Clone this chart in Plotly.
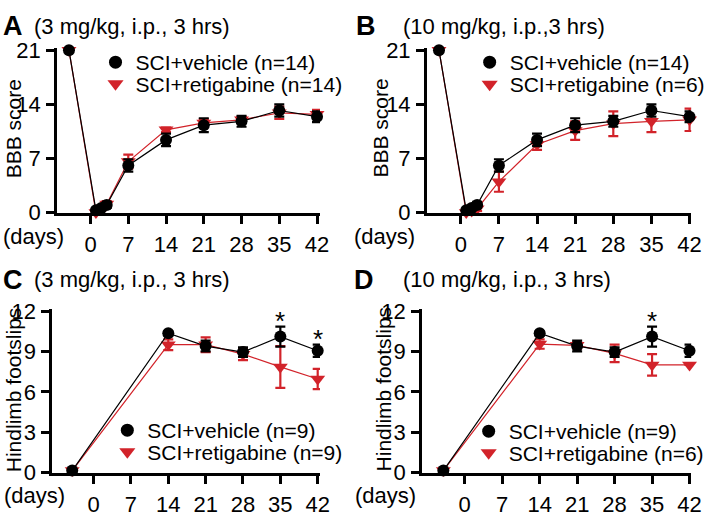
import plotly.graph_objects as go

W, H = 714, 520
FONT = "Liberation Sans, Arial, sans-serif"
BLACK = "#000000"
RED = "#d2232a"

# ---------------- data ----------------
days_bbb = [-4, 1, 2, 3, 7, 14, 21, 28, 35, 42]
days_fs = [-4, 14, 21, 28, 35, 42]
xticks = [0, 7, 14, 21, 28, 35, 42]
bbb_ticks = [0, 7, 14, 21]
fs_ticks = [0, 3, 6, 9, 12]

A_veh = [21, 0.3, 0.6, 1.0, 6.1, 9.4, 11.3, 11.8, 13.2, 12.4]
A_veh_err = [0, 0.2, 0.3, 0.4, 0.8, 0.8, 0.9, 0.7, 0.8, 0.7]
A_ret = [21, 0.0, 0.5, 1.1, 6.6, 10.7, 11.6, 12.0, 12.9, 12.7]
A_ret_err = [0, 0.1, 0.2, 0.4, 0.9, 0.3, 0.5, 0.4, 0.8, 0.6]

B_veh = [21, 0.3, 0.6, 1.0, 6.1, 9.4, 11.3, 11.8, 13.2, 12.4]
B_veh_err = [0, 0.2, 0.3, 0.4, 0.8, 0.8, 0.9, 0.7, 0.8, 0.7]
B_ret = [21, 0.0, 0.2, 0.5, 4.0, 8.8, 10.6, 11.5, 11.8, 12.0]
B_ret_err = [0, 0.1, 0.2, 0.3, 1.3, 0.7, 1.2, 1.6, 1.4, 1.45]

C_veh = [0.15, 10.35, 9.4, 8.95, 10.1, 9.05]
C_veh_err = [0, 0.15, 0.4, 0.35, 0.75, 0.45]
C_ret = [0.15, 9.5, 9.5, 8.8, 7.85, 6.95]
C_ret_err = [0, 0.4, 0.55, 0.45, 1.55, 0.75]
C_sig = [35, 42]

D_veh = [0.15, 10.35, 9.4, 8.95, 10.1, 9.05]
D_veh_err = [0, 0.15, 0.4, 0.35, 0.75, 0.45]
D_ret = [0.15, 9.55, 9.45, 8.85, 8.0, 8.0]
D_ret_err = [0, 0.35, 0.25, 0.65, 0.8, 0.0]
D_sig = [35]

panels = [
    dict(key="A", title="(3 mg/kg, i.p., 3 hrs)", ylab="BBB score", days=days_bbb,
         veh=A_veh, veh_err=A_veh_err, ret=A_ret, ret_err=A_ret_err, sig=[],
         n_veh=14, n_ret=14),
    dict(key="B", title="(10 mg/kg, i.p.,3 hrs)", ylab="BBB score", days=days_bbb,
         veh=B_veh, veh_err=B_veh_err, ret=B_ret, ret_err=B_ret_err, sig=[],
         n_veh=14, n_ret=6),
    dict(key="C", title="(3 mg/kg, i.p., 3 hrs)", ylab="Hindlimb footslips", days=days_fs,
         veh=C_veh, veh_err=C_veh_err, ret=C_ret, ret_err=C_ret_err, sig=C_sig,
         n_veh=9, n_ret=9),
    dict(key="D", title="(10 mg/kg, i.p., 3 hrs)", ylab="Hindlimb footslips", days=days_fs,
         veh=D_veh, veh_err=D_veh_err, ret=D_ret, ret_err=D_ret_err, sig=D_sig,
         n_veh=9, n_ret=6),
]

# ---------------- layout geometry (pixels) ----------------
geo = {
    "A": dict(x0=58, x1=325, y0=40, y1=212, xr=[-6.2, 42.55], yr=[0, 21.25], yt=bbb_ticks,
              letter=(1, 17), title_x=33, ytitle=(14, 124), leg_x=97, leg_y=(55, 77.5),
              days=(1, 237)),
    "B": dict(x0=433.7, x1=702, y0=40, y1=212, xr=[-6.2, 42.3], yr=[0, 21.25], yt=bbb_ticks,
              letter=(360, 17), title_x=407, ytitle=(386, 124), leg_x=477, leg_y=(55, 78),
              days=(358, 237)),
    "C": dict(x0=53.3, x1=325, y0=313, y1=484, xr=[-7.7, 42.43], yr=[0, 12.14], yt=fs_ticks,
              letter=(1, 282), title_x=33, ytitle=(14, 397), leg_x=109, leg_y=(440, 462.5),
              days=(2, 508)),
    "D": dict(x0=428.7, x1=702, y0=313, y1=484, xr=[-7.97, 42.31], yr=[0, 12.14], yt=fs_ticks,
              letter=(358, 282), title_x=407, ytitle=(389, 397), leg_x=476, leg_y=(441, 463.5),
              days=(359, 508)),
}

def px_x(p):
    return p / W

def px_y(p):
    return 1 - p / H

fig = go.Figure()
annotations = []
layout_axes = {}
leg_count = 0

for i, p in enumerate(panels):
    g = geo[p["key"]]
    idx = "" if i == 0 else str(i + 1)
    xa, ya = "x" + idx, "y" + idx

    fig.add_trace(go.Scatter(
        x=p["days"], y=p["ret"], xaxis=xa, yaxis=ya, mode="lines+markers",
        line=dict(color=RED, width=1.2),
        marker=dict(symbol="triangle-down", size=13, color=RED),
        error_y=dict(type="data", array=p["ret_err"], visible=True, color=RED,
                     thickness=2.2, width=5),
        cliponaxis=False, showlegend=False))
    fig.add_trace(go.Scatter(
        x=p["days"], y=p["veh"], xaxis=xa, yaxis=ya, mode="lines+markers",
        line=dict(color=BLACK, width=1.2),
        marker=dict(symbol="circle", size=12, color=BLACK),
        error_y=dict(type="data", array=p["veh_err"], visible=True, color=BLACK,
                     thickness=2.2, width=5),
        cliponaxis=False, showlegend=False))

    entries = [
        ("SCI+vehicle (n=%d)" % p["n_veh"], "circle", 13, BLACK, g["leg_y"][0]),
        ("SCI+retigabine (n=%d)" % p["n_ret"], "triangle-down", 14, RED, g["leg_y"][1]),
    ]
    for name, sym, sz, col, ly in entries:
        leg_count += 1
        legname = "legend" if leg_count == 1 else "legend%d" % leg_count
        fig.add_trace(go.Scatter(
            x=[None], y=[None], xaxis=xa, yaxis=ya, mode="markers",
            marker=dict(symbol=sym, size=sz, color=col),
            name=name, legend=legname, showlegend=True))
        layout_axes[legname] = dict(
            x=px_x(g["leg_x"]), y=px_y(ly), xanchor="left", yanchor="middle",
            bgcolor="rgba(0,0,0,0)", font=dict(family=FONT, size=21, color=BLACK),
            tracegroupgap=0, itemclick=False, itemdoubleclick=False)

    axstyle = dict(showline=True, linewidth=3, linecolor=BLACK, ticks="outside",
                   ticklen=8, tickwidth=3, tickcolor=BLACK, showgrid=False,
                   zeroline=False, tickfont=dict(family=FONT, size=22, color=BLACK))
    layout_axes["xaxis" + idx] = dict(
        axstyle, domain=[px_x(g["x0"]), px_x(g["x1"])], range=g["xr"],
        tickvals=xticks, anchor=ya, ticklabelstandoff=2)
    layout_axes["yaxis" + idx] = dict(
        axstyle, domain=[px_y(g["y1"]), px_y(g["y0"])], range=g["yr"],
        tickvals=g["yt"], anchor=xa, ticklabelstandoff=1)

    annotations.append(dict(
        text="<b>%s</b>" % p["key"], xref="paper", yref="paper",
        x=px_x(g["letter"][0]), y=px_y(g["letter"][1]), xanchor="left", yanchor="middle",
        showarrow=False, font=dict(family=FONT, size=27, color=BLACK)))
    annotations.append(dict(
        text=p["title"], xref="paper", yref="paper",
        x=px_x(g["title_x"]), y=px_y(g["letter"][1]), xanchor="left", yanchor="middle",
        showarrow=False, font=dict(family=FONT, size=22, color=BLACK)))
    annotations.append(dict(
        text=p["ylab"], xref="paper", yref="paper", textangle=-90,
        x=px_x(g["ytitle"][0]), y=px_y(g["ytitle"][1]), xanchor="center", yanchor="middle",
        showarrow=False, font=dict(family=FONT, size=21, color=BLACK)))
    annotations.append(dict(
        text="(days)", xref="paper", yref="paper",
        x=px_x(g["days"][0]), y=px_y(g["days"][1]), xanchor="left", yanchor="middle",
        showarrow=False, font=dict(family=FONT, size=22, color=BLACK)))
    for d in p["sig"]:
        k = p["days"].index(d)
        annotations.append(dict(
            text="*", xref=xa, yref=ya, x=d, y=p["veh"][k] + p["veh_err"][k],
            xanchor="center", yanchor="middle", yshift=6, showarrow=False,
            font=dict(family=FONT, size=26, color=BLACK)))

fig.update_layout(
    width=W, height=H, margin=dict(l=0, r=0, t=0, b=0),
    paper_bgcolor="white", plot_bgcolor="white",
    font=dict(family=FONT, color=BLACK),
    annotations=annotations, **layout_axes)

fig.write_html("out.html", config={"displayModeBar": False},
               post_script="document.body.style.margin='0';document.body.style.overflow='hidden';")
